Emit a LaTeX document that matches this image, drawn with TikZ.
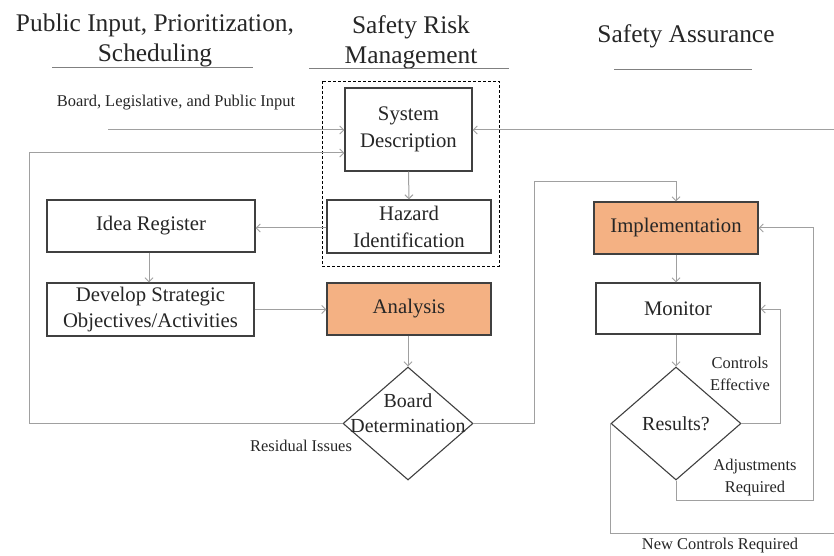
\documentclass[tikz,border=0pt]{standalone}
\usepackage{fontspec}
\setmainfont{Liberation Serif}
\usetikzlibrary{shapes.geometric,arrows.meta,calc}
\definecolor{boxline}{HTML}{404040}
\definecolor{conn}{HTML}{A0A0A0}
\definecolor{orangefill}{HTML}{F4B183}
\definecolor{txtcol}{HTML}{262626}
\tikzset{
  stepbox/.style={draw=boxline, line width=1.1bp, fill=white, inner sep=0pt, align=center, text=txtcol,
    font=\fontsize{20.8}{27}\selectfont},
  hotbox/.style={stepbox, fill=orangefill},
  diam/.style={draw=boxline, line width=1.1bp, shape=diamond, inner sep=0pt, minimum width=130bp, minimum height=113bp},
  diamtxt/.style={inner sep=0pt, align=center, text=txtcol, font=\fontsize{20}{25}\selectfont},
  head/.style={inner sep=0pt, align=center, text=txtcol, font=\fontsize{25.5}{30}\selectfont},
  lbl/.style={inner sep=0pt, align=center, text=txtcol, font=\fontsize{16.5}{22}\selectfont},
  conline/.style={draw=conn, line width=1bp},
  conarrow/.style={conline, -{Straight Barb[length=4bp,width=8bp]}},
  uline/.style={draw=gray, line width=1bp}
}
\begin{document}
\begin{tikzpicture}[x=1bp,y=-1bp]
\useasboundingbox (0,0) rectangle (834,556);
% headers
\node[head] (h1) at (155,40) {Public Input, Prioritization,\\Scheduling};
\node[head] (h2) at (411,42) {Safety Risk\\Management};
\node[head] (h3) at (686,36) {Safety Assurance};
\draw[uline] (52,68) -- (253,68);
\draw[uline] (309,69) -- (509,69);
\draw[uline] (614,70) -- (752,70);
% dashed group
\draw[black, line width=0.9bp, dash pattern=on 3bp off 2bp] (322,81) rectangle (499,266);
% nodes
\node[stepbox, minimum width=127bp, minimum height=83bp] (sysd) at (408.5,129.5) {System\\Description};
\node[stepbox, minimum width=164bp, minimum height=53bp] (haz) at (409,226.5) {Hazard\\Identification};
\node[stepbox, minimum width=208bp, minimum height=52bp] (idea) at (151,226) {Idea Register};
\node[stepbox, minimum width=207bp, minimum height=53bp] (dev) at (150.5,309.5) {Develop Strategic\\Objectives/Activities};
\node[hotbox, minimum width=164bp, minimum height=52bp] (ana) at (409,309) {Analysis};
\node[diam, fill=white] (board) at (408,423.5) {};
\node[diamtxt] (boardt) at (408,413) {Board\\Determination};
\node[hotbox, minimum width=164bp, minimum height=52bp] (impl) at (676,228) {Implementation};
\node[stepbox, minimum width=164bp, minimum height=51bp] (mon) at (678,308.5) {Monitor};
\node[diam, fill=white] (res) at (676,423.5) {};
\node[diamtxt] (rest) at (676,424) {Results?};
% labels
\node[lbl] (lin) at (176,103) {Board, Legislative, and Public Input};
\node[lbl] (lres) at (301,446) {Residual Issues};
\node[lbl] (lce) at (740,374) {Controls\\Effective};
\node[lbl] (lar) at (755,478) {Adjustments\\Required};
\node[lbl] (lnc) at (720,546) {New Controls Required};
% coordinates
\coordinate (in1) at (108,130);
\coordinate (rin) at (834,130);
\coordinate (c1) at (29,153);
\coordinate (c2) at (534,182);
\coordinate (c3) at (780,309);
\coordinate (c4) at (813,500);
\coordinate (out2) at (834,533);
% connectors
\draw[conarrow] (in1) -- (in1 -| sysd.west);
\draw[conarrow] (rin) -- (rin -| sysd.east);
\draw[conarrow] (board.west) -| (c1) -- (c1 -| sysd.west);
\draw[conarrow] (sysd.south) -- (haz.north);
\draw[conarrow] (haz.west |- 0,228) -- (idea.east |- 0,228);
\draw[conarrow] (idea.south -| 149,0) -- (dev.north -| 149,0);
\draw[conarrow] (dev.east) -- (dev.east -| ana.west);
\draw[conarrow] (ana.south -| board.north) -- (board.north);
\draw[conarrow] (board.east) -| (c2) -| (impl.north);
\draw[conarrow] (impl.south) -- (impl.south |- mon.north);
\draw[conarrow] (mon.south -| res.north) -- (res.north);
\draw[conarrow] (res.east) -| (c3) -- (c3 -| mon.east);
\draw[conarrow] (res.south) |- (c4) |- (impl.east);
\draw[conline] (res.west) |- (out2);
\end{tikzpicture}
\end{document}
